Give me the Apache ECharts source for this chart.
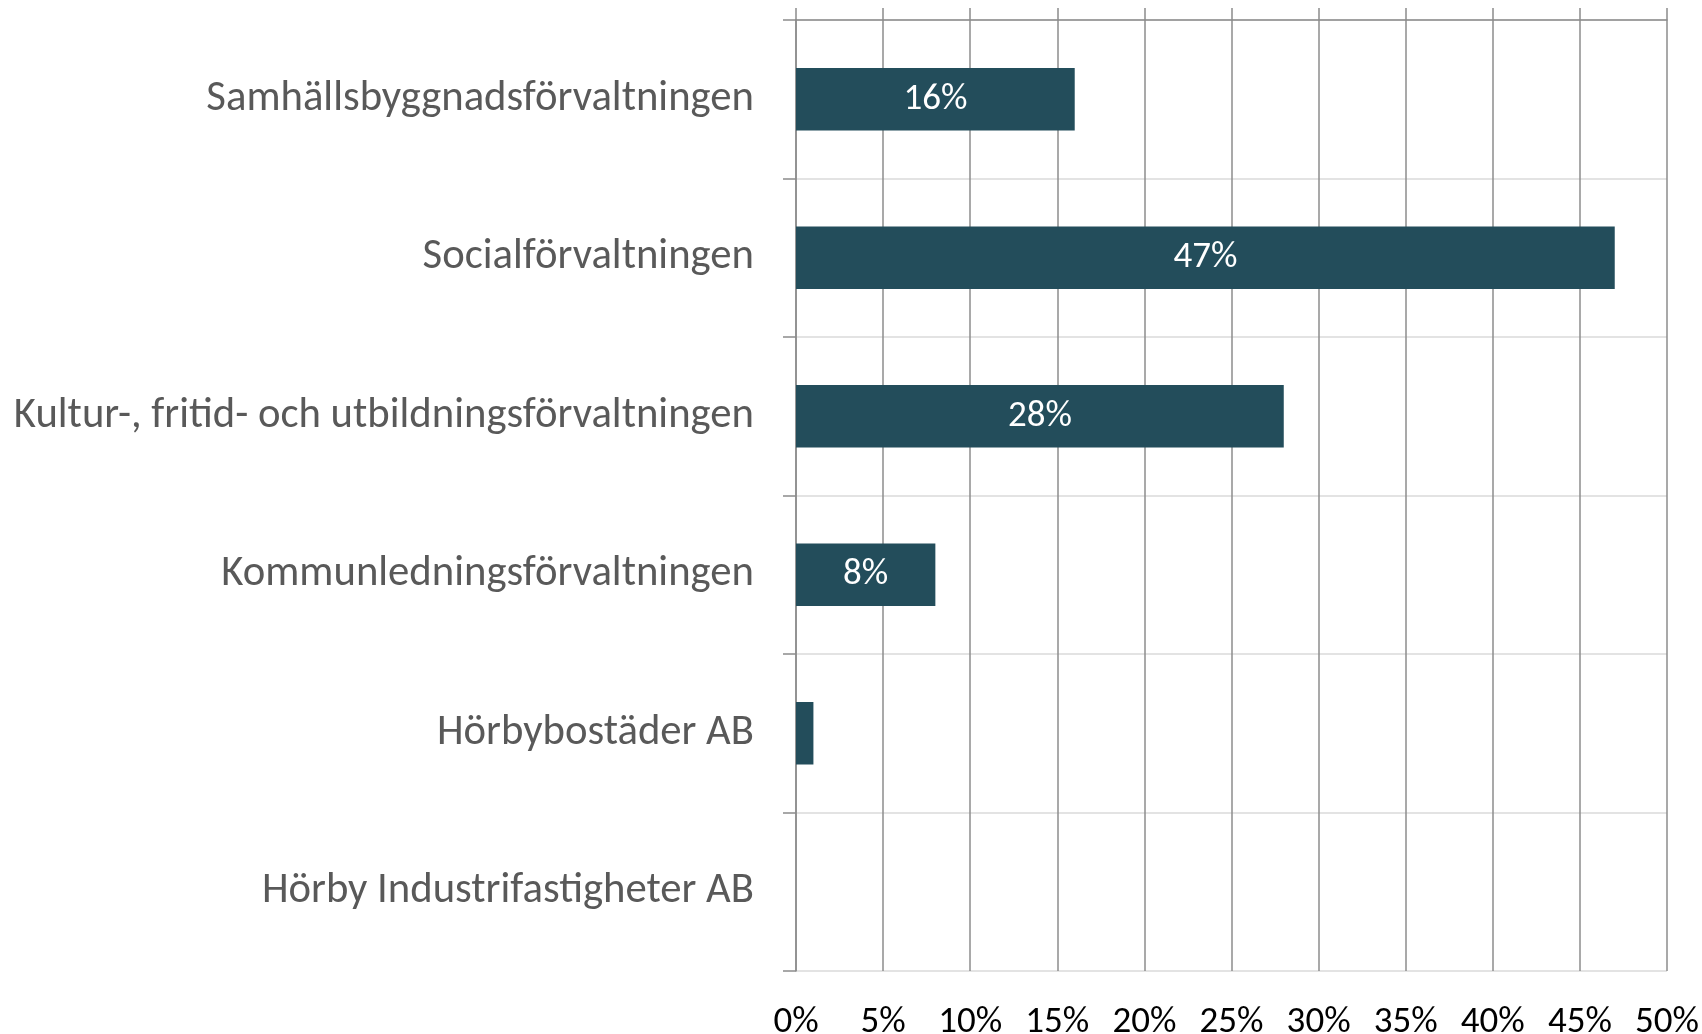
<!DOCTYPE html>
<html>
<head>
<meta charset="utf-8">
<script src="https://cdn.jsdelivr.net/npm/echarts@6/dist/echarts.min.js"></script>
<style>
  html, body { margin: 0; padding: 0; background: #ffffff; }
  #main { width: 1702px; height: 1034px; }
</style>
</head>
<body>
<div id="main"></div>
<script>
// förvaltningar, uppifrån och ner
var categories = [
  "Samhällsbyggnadsförvaltningen",
  "Socialförvaltningen",
  "Kultur-, fritid- och utbildningsförvaltningen",
  "Kommunledningsförvaltningen",
  "Hörbybostäder AB",
  "Hörby Industrifastigheter AB"
];
var shares = [16, 47, 28, 8, 1, 0];   // procent
var tickValues = [0, 5, 10, 15, 20, 25, 30, 35, 40, 45, 50];

var font = "Carlito, Lato, sans-serif";
var chart = echarts.init(document.getElementById("main"));

var data = shares.map(function (v) {
  // små värden visas utan etikett, som i originalet
  return { value: v, label: { show: v >= 5 } };
});

var option = {
  animation: false,
  grid: { left: 796, right: 35, top: 20, bottom: 63, outerBoundsMode: "none" },
  xAxis: [
    {
      // axellinje och ticks upptill
      type: "value",
      position: "top",
      min: tickValues[0],
      max: tickValues[tickValues.length - 1],
      interval: 5,
      axisLine: { show: true, lineStyle: { color: "#8c8c8c", width: 1.5 } },
      axisTick: { show: true, inside: false, length: 12, lineStyle: { color: "#8c8c8c", width: 1.5 } },
      axisLabel: { show: false },
      splitLine: { show: true, lineStyle: { color: "#8c8c8c", width: 1.5 } }
    },
    {
      // bara etiketter nertill
      type: "value",
      position: "bottom",
      min: tickValues[0],
      max: tickValues[tickValues.length - 1],
      interval: 5,
      axisLine: { show: false },
      axisTick: { show: false },
      splitLine: { show: false },
      axisLabel: {
        margin: 33,
        color: "#000000",
        fontFamily: font,
        fontSize: 37,
        formatter: "{value}%"
      }
    }
  ],
  yAxis: {
    type: "category",
    inverse: true,
    data: categories,
    axisLine: { show: true, lineStyle: { color: "#8c8c8c", width: 1.5 } },
    axisTick: { show: true, length: 13, lineStyle: { color: "#8c8c8c", width: 1.5 } },
    splitLine: { show: true, lineStyle: { color: "#e3e3e3", width: 2 } },
    axisLabel: {
      margin: 42,
      color: "#595959",
      fontFamily: font,
      fontSize: 42.7,
      padding: [9, 0, 0, 0]
    }
  },
  series: [
    {
      type: "bar",
      xAxisIndex: 0,
      data: data,
      barWidth: "39.5%",
      itemStyle: { color: "#234d5b" },
      label: {
        show: true,
        position: "inside",
        color: "#ffffff",
        fontFamily: font,
        fontSize: 37,
        padding: [11, 0, 0, 0],
        formatter: "{c}%"
      }
    }
  ]
};

chart.setOption(option);
</script>
</body>
</html>
